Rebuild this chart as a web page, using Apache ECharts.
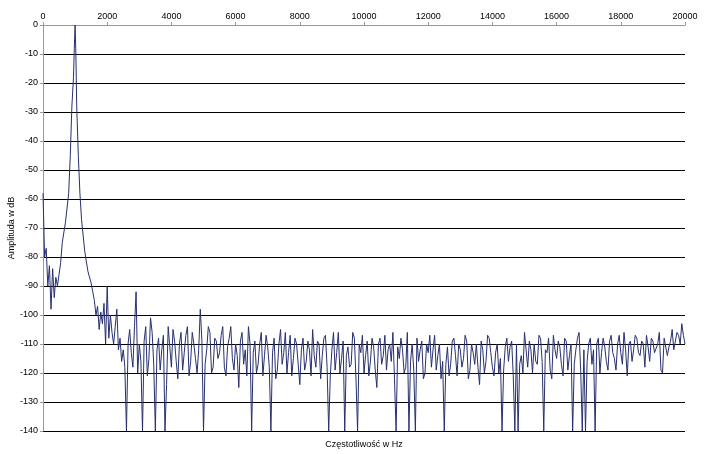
<!DOCTYPE html>
<html><head><meta charset="utf-8">
<script src="https://cdn.jsdelivr.net/npm/echarts@6/dist/echarts.min.js"></script>
<style>html,body{margin:0;background:#fff}#c{width:705px;height:454px}</style>
</head><body><div id="c"></div>
<script>
var lowFreq = [0,50,100,150,200,250,300,350,400,450,500,550,600,700,800,850,900,950,975,1000,1025,1050,1100,1150,1200,1300,1400,1500,1550,1600,1650,1700,1750,1800,1850,1900,1950,2000,2050,2100,2150,2200,2250,2300,2350,2400,2450];
var lowAmp  = [-58,-80,-77,-90,-83,-98,-84,-94,-87,-90,-86,-82,-75,-68,-58,-45,-28,-18,-8,0,-10,-28,-45,-58,-67,-78,-85,-89,-92,-95,-100,-97,-105,-99,-103,-96,-110,-90,-108,-100,-106,-110,-104,-98,-112,-108,-116];
var highStart = 2500, highStep = 100;
var highAmp = [
-112,-140,-105,-118,-92,-110,-140,-104,-115,-106,
-140,-108,-112,-140,-104,-118,-109,-122,-106,-113,
-104,-116,-110,-120,-98,-140,-112,-106,-118,-109,
-113,-104,-121,-108,-115,-110,-125,-106,-112,-104,
-140,-109,-117,-106,-114,-111,-140,-108,-119,-105,
-113,-120,-107,-115,-110,-124,-108,-116,-112,-105,
-118,-110,-114,-107,-140,-112,-119,-106,-115,-140,
-111,-117,-108,-140,-113,-120,-109,-116,-111,-125,
-108,-114,-119,-110,-106,-140,-115,-112,-118,-140,
-110,-140,-116,-109,-120,-113,-118,-107,-114,-122,
-140,-111,-117,-108,-121,-112,-115,-109,-119,-113,
-110,-124,-112,-116,-108,-118,-113,-120,-140,-111,
-116,-109,-140,-140,-114,-106,-118,-112,-110,-117,
-108,-140,-113,-119,-107,-115,-111,-121,-109,-114,
-140,-112,-106,-140,-140,-110,-117,-140,-108,-113,
-111,-119,-107,-115,-110,-113,-106,-121,-109,-112,
-108,-114,-110,-107,-116,-109,-113,-106,-120,-108,
-111,-105,-109,-107,-103,-110];
var midAmp = [
-118,-110,-113,-104,-120,-116,-109,-121,-101,-117,
-112,-119,-107,-124,-111,-105,-116,-110,-119,-107,
-121,-106,-115,-112,-109,-117,-104,-120,-108,-115,
-107,-118,-111,-104,-119,-114,-109,-117,-121,-110,
-113,-120,-110,-121,-107,-118,-113,-122,-110,-117,
-106,-113,-121,-108,-117,-112,-119,-109,-121,-114,
-109,-122,-108,-118,-121,-106,-113,-120,-109,-114,
-118,-106,-122,-110,-107,-114,-121,-108,-119,-110,
-117,-107,-112,-116,-122,-111,-108,-120,-106,-116,
-119,-108,-112,-122,-110,-107,-112,-119,-110,-116,
-117,-121,-109,-114,-110,-118,-107,-122,-110,-117,
-118,-109,-120,-107,-113,-121,-110,-115,-119,-108,
-111,-121,-110,-117,-120,-112,-109,-120,-116,-107,
-116,-112,-108,-122,-112,-109,-117,-108,-119,-110,
-117,-108,-119,-112,-116,-108,-112,-110,-120,-108,
-116,-109,-113,-119,-107,-117,-112,-110,-116,-107,
-113,-109,-118,-111,-108,-113,-110,-119,-108,-114,
-109,-112,-106,-110,-107];
var data = lowFreq.map(function(f,i){return [f, lowAmp[i]];});
highAmp.forEach(function(a,i){
  data.push([highStart + i*highStep, a]);
  if (i < midAmp.length) data.push([highStart + i*highStep + highStep/2, midAmp[i]]);
});
var font = 'Liberation Sans';
echarts.init(document.getElementById('c')).setOption({
  animation:false,
  grid:{left:43,right:20,top:25,bottom:23,outerBoundsMode:'none',containLabel:false},
  graphic:[{type:'text',x:12,y:228,rotation:Math.PI/2,
    style:{text:'Amplituda w dB',font:'9px Liberation Sans',fill:'#000',align:'center',verticalAlign:'middle'}}],
  xAxis:{type:'value',position:'top',min:0,max:20000,interval:2000,
    name:'Częstotliwość w Hz',nameLocation:'middle',nameGap:-424,
    nameTextStyle:{fontFamily:font,fontSize:9,color:'#000'},
    axisLine:{lineStyle:{color:'#999'}},axisTick:{show:true,length:3,lineStyle:{color:'#999'}},
    axisLabel:{fontFamily:font,fontSize:9,color:'#000',margin:4,formatter:function(v){return String(v);}},splitLine:{show:false}},
  yAxis:{type:'value',min:-140,max:0,interval:10,
    axisLine:{show:true,lineStyle:{color:'#999'}},axisTick:{show:true,length:3,lineStyle:{color:'#999'}},
    axisLabel:{fontFamily:font,fontSize:9,color:'#000',margin:5},
    splitLine:{lineStyle:{color:'#000',width:1}}},
  series:[{type:'line',data:data,showSymbol:false,lineStyle:{color:'#27306e',width:1}}]
});
</script></body></html>
